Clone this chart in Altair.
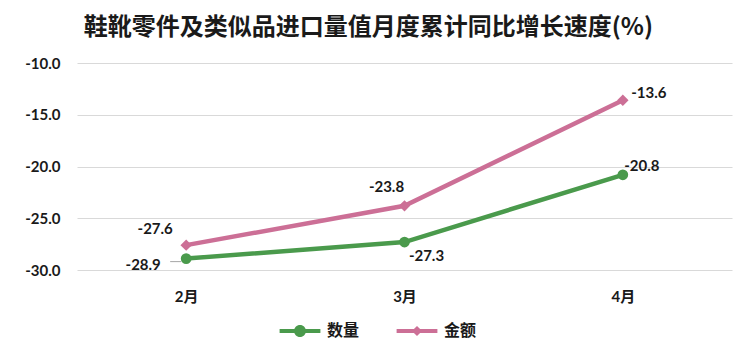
import altair as alt
import pandas as pd

# ---- data ----
months = ["2月", "3月", "4月"]
series_names = ["数量", "金额"]
qty_values = [-28.9, -27.3, -20.8]
amt_values = [-27.6, -23.8, -13.6]
y_ticks = [-30, -25, -20, -15, -10]
title_text = "鞋靴零件及类似品进口量值月度累计同比增长速度(%)"

rows = []
for name, vals in zip(series_names, [qty_values, amt_values]):
    for m, v in zip(months, vals):
        rows.append({"月": m, "系列": name, "值": v})
df = pd.DataFrame(rows)

# ---- styles ----
NUM_FONT = "Lato, 'Noto Sans CJK SC', sans-serif"
CJK_FONT = "'Noto Sans CJK SC', sans-serif"
TEXT_COLOR = "#1a1a1a"
colors = ["#4a9a4c", "#cc6f96"]

legend_paths = [
    "M-3.4,-0.35H3.4V0.35H-3.4Z M1,0A1,1,0,1,1,-1,0A1,1,0,1,1,1,0Z",
    "M-3.4,-0.35H3.4V0.35H-3.4Z M0,-0.85L0.85,0L0,0.85L-0.85,0Z",
]

x = alt.X(
    "月:N",
    sort=months,
    scale=alt.Scale(type="point", padding=0.5),
    axis=alt.Axis(
        title=None, labelAngle=0, ticks=False, domain=False, labelPadding=19,
        labelFontSize=15, labelFontWeight="bold", labelFont=NUM_FONT,
        labelColor=TEXT_COLOR, grid=False,
    ),
)
y = alt.Y(
    "值:Q",
    scale=alt.Scale(domain=[-30, -10], nice=False, zero=False),
    axis=alt.Axis(
        title=None, values=y_ticks, ticks=False, tickSize=0,
        labelExpr="replace(format(datum.value, '.1f'), '\u2212', '-')",
        domain=False, labelPadding=17, grid=True, gridColor="#d9d9d9",
        gridWidth=1, labelFontSize=15, labelFontWeight="bold",
        labelFont=NUM_FONT, labelColor=TEXT_COLOR,
    ),
)
# colour scale for lines/markers (no explicit domain, so it is not merged with the legend's scale)
color = alt.Color(
    "系列:N", sort=series_names,
    scale=alt.Scale(range=colors), legend=None,
)

base = alt.Chart(df).transform_calculate(
    标签="replace(format(datum['值'], '.1f'), '\u2212', '-')"
)

lines = base.mark_line(strokeWidth=4.5).encode(x=x, y=y, color=color)

pts_qty = base.transform_filter(alt.datum["系列"] == "数量").mark_point(
    filled=True, shape="circle", size=115, opacity=1
).encode(x=x, y=y, color=color)

pts_amt = base.transform_filter(alt.datum["系列"] == "金额").mark_point(
    filled=True, shape="diamond", size=130, opacity=1
).encode(x=x, y=y, color=color)

# legend-only layer: draws no marks (filtered out), its scales carry the legend
legend_layer = base.transform_filter("false").mark_point(filled=True, opacity=1, size=144).encode(
    x=x,
    y=y,
    fill=alt.Fill(
        "系列:N", sort=series_names,
        scale=alt.Scale(domain=series_names, range=colors),
        legend=alt.Legend(
            orient="none", legendX=215, legendY=260, direction="horizontal",
            title=None, symbolSize=144, labelOffset=19, columnPadding=36,
            labelFontSize=16, labelFont=CJK_FONT, labelFontWeight="bold",
            labelColor=TEXT_COLOR, symbolOpacity=1, symbolStrokeWidth=0,
        ),
    ),
    shape=alt.Shape(
        "系列:N", sort=series_names,
        scale=alt.Scale(domain=series_names, range=legend_paths),
    ),
)

label_offsets = {
    ("金额", "2月"): (-31, -16),
    ("金额", "3月"): (-18, -19),
    ("金额", "4月"): (26, -7),
    ("数量", "2月"): (-43, 6),
    ("数量", "3月"): (22, 14),
    ("数量", "4月"): (19, -9),
}

labels = []
for (s, m), (dx, dy) in label_offsets.items():
    labels.append(
        base.transform_filter((alt.datum["系列"] == s) & (alt.datum["月"] == m))
        .mark_text(dx=dx, dy=dy, fontSize=15, fontWeight="bold", font=NUM_FONT,
                   color=TEXT_COLOR, baseline="middle", align="center")
        .encode(x=x, y=y, text=alt.Text("标签:N"))
    )

leader = base.transform_filter(
    (alt.datum["系列"] == "数量") & (alt.datum["月"] == "2月")
).mark_rule(color="#a6a6a6", strokeWidth=1, xOffset=-16, x2Offset=-5, yOffset=3).encode(
    x=x, x2=alt.X2("月"), y=y
)

chart = alt.layer(lines, leader, pts_qty, pts_amt, legend_layer, *labels).properties(
    width=655,
    height=207,
    padding={"left": 24, "top": 16, "right": 10, "bottom": 5},
    title=alt.TitleParams(
        text=title_text, anchor="start", dx=59, fontSize=24, font=CJK_FONT,
        fontWeight="bold", color=TEXT_COLOR, offset=16,
    ),
    background="white",
).configure_view(stroke=None)

chart.save("out.html", embed_options={"renderer": "svg", "actions": False})
